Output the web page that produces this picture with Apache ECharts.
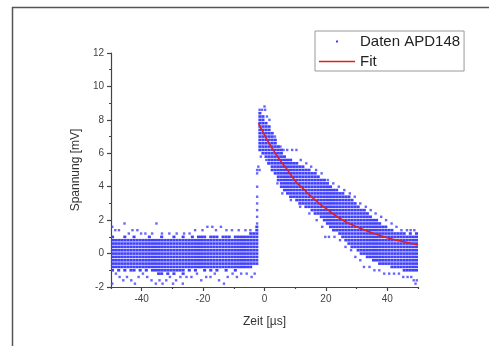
<!DOCTYPE html>
<html><head><meta charset="utf-8">
<script src="https://cdn.jsdelivr.net/npm/echarts@6/dist/echarts.min.js"></script>
<style>html,body{margin:0;padding:0;background:#fff}#c{width:489px;height:346px}</style>
</head><body><div id="c"></div>
<script>
// Dense band of measured points: each column spans [bandX, bandX+1] µs, filled from bandLow to bandHigh (mV)
const bandX = [-50,-49,-48,-47,-46,-45,-44,-43,-42,-41,-40,-39,-38,-37,-36,-35,-34,-33,-32,-31,-30,-29,-28,-27,-26,-25,-24,-23,-22,-21,-20,-19,-18,-17,-16,-15,-14,-13,-12,-11,-10,-9,-8,-7,-6,-5,-4,-3,
  -2,-1,0,1,2,3,4,5,6,7,8,9,10,11,12,13,14,15,16,17,18,19,20,21,22,23,24,25,26,27,28,29,30,31,32,33,34,35,36,37,38,39,40,41,42,43,44,45,46,47,48,49];
const bandLow = [-1.0,-0.8,-1.0,-0.8,-1.0,-0.8,-1.0,-1.0,-0.8,-1.0,-0.8,-1.0,-0.8,-1.0,-1.0,-1.2,-1.2,-1.0,-1.2,-1.0,-1.2,-1.0,-1.0,-1.2,-0.8,-1.0,-0.8,-1.0,-0.8,-0.8,-1.0,-0.8,-1.0,-0.8,-1.0,-0.8,-0.8,-1.0,-0.8,-0.8,-1.0,-0.8,-0.8,-0.8,-0.8,-0.8,-0.6,-0.6,
  6.2,6.0,5.8,5.4,5.0,4.8,4.4,4.0,3.8,3.6,3.4,3.4,3.2,3.0,3.0,2.8,2.8,2.6,2.4,2.4,2.2,2.0,1.8,1.6,1.4,1.4,1.2,1.0,0.8,0.6,0.4,0.4,0.2,0.0,0.0,-0.2,-0.2,-0.4,-0.4,-0.6,-0.6,-0.6,-0.6,-0.8,-0.8,-0.8,-0.8,-1.0,-1.0,-1.0,-1.0,-1.0];
const bandHigh = [1.0,0.8,0.8,0.8,1.0,0.8,0.8,1.0,0.8,0.8,0.8,0.8,1.0,0.8,0.8,0.8,1.0,0.8,0.8,0.8,1.0,0.8,0.8,1.0,0.8,0.8,1.0,0.8,1.0,1.0,1.0,0.8,1.0,1.0,1.0,0.8,1.0,1.0,1.0,0.8,1.0,1.0,1.0,1.0,1.0,1.2,1.2,1.6,
  8.4,8.2,7.8,7.6,7.2,6.8,6.4,6.2,5.8,5.6,5.6,5.4,5.4,5.2,5.2,5.0,5.0,4.8,4.8,4.6,4.4,4.4,4.2,4.0,3.8,3.8,3.6,3.6,3.4,3.4,3.2,3.0,2.8,2.6,2.6,2.4,2.2,2.0,2.0,1.8,1.6,1.6,1.4,1.4,1.2,1.2,1.2,1.2,1.0,1.2,1.0,1.2];
// Isolated points around the band
const outlierX = [-49.6,-48.6,-47.4,-45.6,-44.2,-43.0,-41.4,-40.2,-38.8,-36.6,-35.2,-33.4,-31.0,-28.6,-26.2,-24.4,-22.6,-20.2,-18.6,-17.0,-15.8,-14.2,-12.4,-10.6,-8.4,-6.2,-4.6,
  -49.6,-48.4,-47.2,-46.0,-44.8,-43.4,-42.2,-41.0,-39.6,-38.2,-36.8,-35.4,-34.2,-33.2,-32.0,-30.8,-29.8,-28.8,-27.4,-26.6,-25.4,-23.8,-22.0,-20.6,-19.0,-17.6,-16.2,-14.8,-13.2,-12.0,-10.4,-9.0,-7.6,-5.8,-4.2,-3.2,
  -2.4,-2.4,-2.4,-2.4,-2.4,-2.4,-2.4,-2.4,-2.0,-1.6,
  -1.6,-0.8,0.0,0.2,0.8,1.6,-1.2,0.6,1.2,
  3.4,5.2,6.2,7.4,9.0,10.4,11.8,13.6,15.2,16.8,18.6,20.6,22.4,24.2,26.0,27.8,29.4,31.2,33.0,34.6,36.2,38.0,39.6,41.4,43.0,44.6,46.4,47.6,48.8,
  4.2,5.8,8.6,11.6,14.6,17.0,18.8,19.8,21.0,22.8,24.6,26.4,28.2,29.6,31.2,32.4,34.2,35.8,37.4,39.0,40.6,42.2,43.8,45.2,46.6,47.8,48.6,49.2,49.6];
const outlierY = [1.6,1.4,1.4,1.8,1.2,1.4,1.4,1.2,1.2,1.2,1.8,1.2,1.2,1.2,1.2,1.2,1.4,1.4,1.6,1.6,1.4,1.6,1.4,1.4,1.4,1.4,1.4,
  -1.8,-1.2,-1.4,-1.6,-1.4,-1.6,-1.8,-1.4,-1.2,-1.4,-1.6,-1.8,-1.6,-1.8,-1.6,-1.4,-1.8,-1.6,-1.4,-1.8,-1.4,-1.4,-1.2,-1.6,-1.4,-1.4,-1.2,-1.6,-1.8,-1.4,-1.2,-1.4,-1.2,-1.2,-1.4,-1.2,
  1.8,2.2,2.6,3.0,3.4,4.0,4.8,5.0,5.2,5.0,
  8.6,8.6,8.8,8.6,8.2,8.0,5.8,5.6,5.4,
  7.0,6.4,6.2,6.2,6.2,6.2,5.6,5.4,5.2,5.0,4.8,4.4,4.2,4.0,3.8,3.6,3.4,3.0,2.8,2.6,2.4,2.2,2.0,1.8,1.6,1.4,1.4,1.4,1.4,
  4.2,3.6,3.2,2.8,2.4,2.0,1.6,1.0,1.0,1.0,0.8,0.4,0.2,-0.2,-0.4,-0.8,-0.8,-1.0,-1.0,-1.2,-1.2,-1.2,-1.2,-1.4,-1.4,-1.4,-1.6,-1.8,-1.6];
// Fit curve
const fitX = [-2,-1,0,1,2.5,5,7.5,10,12.5,15,17.5,20,25,30,35,40,45,50];
const fitY = [7.8,7.45,7.1,6.75,6.3,5.6,5.0,4.35,3.9,3.45,3.05,2.7,2.05,1.6,1.25,0.95,0.72,0.52];
// Tick positions
const xLabelTicks = [-40,-20,0,20,40];
const xMinorTicks = [-50,-30,-10,10,30,50];
const LEVEL = 0.2;
const BLUE = '#4040ff';
const RED = '#e0201c';
const FONT = 'Liberation Sans, Arial, sans-serif';

const chart = echarts.init(document.getElementById('c'), null, {renderer: 'canvas'});
const bandData = bandX.map((x, i) => [x, bandLow[i], bandHigh[i]]);
const outData = outlierX.map((x, i) => [x, outlierY[i]]);
const fitData = fitX.map((x, i) => [x, fitY[i]]);

function renderBand(params, api) {
  const x0 = api.value(0), lo = api.value(1), hi = api.value(2);
  const children = [];
  const k0 = Math.round(lo / LEVEL), k1 = Math.round(hi / LEVEL);
  for (let k = k0; k <= k1; k++) {
    const y = k * LEVEL;
    const a = api.coord([x0, y]);
    const b = api.coord([x0 + 1, y]);
    children.push({type: 'rect', shape: {x: a[0], y: a[1] - 1.3, width: b[0] - a[0], height: 2.6}, style: {fill: BLUE}});
  }
  return {type: 'group', children};
}

const axisColor = '#444';
chart.setOption({
  animation: false,
  backgroundColor: '#fff',
  textStyle: {fontFamily: FONT},
  grid: {left: 111, right: 71, top: 53, bottom: 59, containLabel: false},
  legend: {
    orient: 'vertical', left: 315, top: 31, padding: [3, 4, 2, 4],
    itemWidth: 36, itemHeight: 14, itemGap: 5,
    borderColor: '#999', borderWidth: 1, selectedMode: false,
    textStyle: {fontSize: 15, color: '#222', fontFamily: FONT},
    data: [
      {name: 'Daten APD148', icon: 'path://M0,0L0.01,0M36,14L35.99,14M17,6h2v2h-2z', itemStyle: {color: BLUE}},
      {name: 'Fit', icon: 'path://M0,0L0.01,0M36,14L35.99,14M0,6.2h36v1.6h-36z', itemStyle: {color: RED}}
    ]
  },
  xAxis: [{
    type: 'value', min: -50, max: 50, interval: 10, position: 'bottom',
    name: 'Zeit [µs]', nameLocation: 'middle', nameGap: 29,
    nameTextStyle: {fontSize: 12, color: '#333', fontFamily: FONT},
    axisLine: {show: true, onZero: false, lineStyle: {color: axisColor, width: 1.2}},
    axisTick: {show: true, customValues: xLabelTicks, length: 4, lineStyle: {color: axisColor, width: 1.2}},
    axisLabel: {customValues: xLabelTicks, fontSize: 10, color: '#444', margin: 7, fontFamily: FONT},
    splitLine: {show: false}
  }, {
    type: 'value', min: -50, max: 50, interval: 10, position: 'bottom', offset: 0,
    axisLine: {show: false, onZero: false},
    axisTick: {show: true, customValues: xMinorTicks, length: 2, lineStyle: {color: axisColor, width: 1.2}},
    axisLabel: {show: false, customValues: xMinorTicks},
    splitLine: {show: false}
  }],
  yAxis: {
    type: 'value', min: -2, max: 12, interval: 2, position: 'left',
    name: 'Spannung [mV]', nameLocation: 'middle', nameGap: 23,
    nameTextStyle: {fontSize: 12, color: '#333', fontFamily: FONT},
    axisLine: {show: true, onZero: false, lineStyle: {color: axisColor, width: 1.2}},
    axisTick: {show: true, length: 4, lineStyle: {color: axisColor, width: 1.2}},
    minorTick: {show: true, splitNumber: 2, length: 2, lineStyle: {color: axisColor, width: 1.2}},
    axisLabel: {fontSize: 10, color: '#444', margin: 7, fontFamily: FONT},
    splitLine: {show: false}, minorSplitLine: {show: false}
  },
  graphic: [
    {type: 'line', shape: {x1: 12, y1: 7.5, x2: 489, y2: 7.5}, style: {stroke: '#555', lineWidth: 1.5}, silent: true},
    {type: 'line', shape: {x1: 12.5, y1: 7, x2: 12.5, y2: 346}, style: {stroke: '#555', lineWidth: 1.5}, silent: true}
  ],
  series: [{
    name: 'Daten APD148', type: 'custom', renderItem: renderBand,
    dimensions: ['x', 'low', 'high'], encode: {x: 0, y: [1, 2]},
    itemStyle: {color: BLUE}, data: bandData, clip: true
  }, {
    name: 'Daten APD148', type: 'scatter', symbol: 'rect', symbolSize: [2.4, 2.4],
    itemStyle: {color: BLUE}, data: outData
  }, {
    name: 'Fit', type: 'line', smooth: true, showSymbol: false, symbol: 'none',
    lineStyle: {color: RED, width: 1.6}, itemStyle: {color: RED}, data: fitData, z: 5
  }]
});
</script>
</body></html>
